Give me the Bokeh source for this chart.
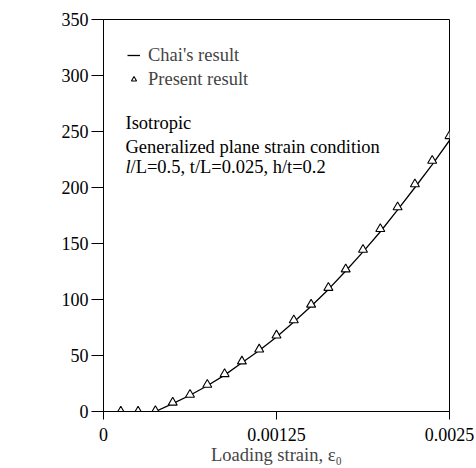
from bokeh.plotting import figure
from bokeh.models import Range1d, FixedTicker, Label, Legend, LegendItem
from bokeh.embed import file_html
from bokeh.resources import INLINE

# ---- data ----
present_x = [0.000125, 0.00025, 0.000375, 0.0005, 0.000625, 0.00075, 0.000875, 0.001,
             0.001125, 0.00125, 0.001375, 0.0015, 0.001625, 0.00175, 0.001875, 0.002,
             0.002125, 0.00225, 0.002375, 0.0025]
present_g = [0, 0, 0.5, 8, 15, 24, 33.5, 44.8, 55.5, 68, 81.5, 95.5, 110.5, 127, 144.5,
             163, 182.5, 203, 224, 246]

chai_x = [0.000375, 0.0005, 0.000625, 0.00075, 0.000875, 0.001, 0.001125, 0.00125,
          0.001375, 0.0015, 0.001625, 0.00175, 0.001875, 0.002, 0.002125, 0.00225,
          0.002375, 0.0025]
chai_g = [0, 7, 14.5, 23, 32.5, 43.5, 54.5, 66.5, 80, 94, 109, 125.5, 142.5, 160.5,
          180, 200, 220.5, 242]

x_ticks = [0, 0.00125, 0.0025]
x_tick_labels = ["0", "0.00125", "0.0025"]
y_ticks = [0, 50, 100, 150, 200, 250, 300, 350]

FONT = "Liberation Serif"

p = figure(width=476, height=468, output_backend="svg", toolbar_location=None,
           x_range=Range1d(0, 0.0025), y_range=Range1d(0, 350),
           min_border_left=103, min_border_right=27, min_border_top=19, min_border_bottom=57)

p.grid.visible = False
p.background_fill_color = "white"
p.border_fill_color = "white"
p.outline_line_color = "black"
p.outline_line_width = 1

for ax in (p.xaxis, p.yaxis):
    ax.axis_line_color = "black"
    ax.major_tick_line_color = "black"
    ax.minor_tick_line_color = None
    ax.major_tick_in = 0
    ax.major_label_text_font = FONT
    ax.major_label_text_font_size = "18px"
    ax.major_label_text_color = "black"

p.xaxis.ticker = FixedTicker(ticks=x_ticks)
p.xaxis.major_label_overrides = {t: s for t, s in zip(x_ticks, x_tick_labels)}
p.xaxis.major_tick_out = 8
p.xaxis.major_label_standoff = 8
p.xaxis.axis_label = "Loading strain, ε₀"
p.xaxis.axis_label_text_font = FONT
p.xaxis.axis_label_text_font_style = "normal"
p.xaxis.axis_label_text_font_size = "18.5px"
p.xaxis.axis_label_standoff = 1

p.yaxis.ticker = FixedTicker(ticks=y_ticks)
p.yaxis.major_tick_out = 12
p.yaxis.major_label_standoff = 3

line_r = p.line(chai_x, chai_g, line_color="black", line_width=1.3)
tri_r = p.scatter(present_x, present_g, marker="triangle", size=9,
                  line_color="black", line_width=1.1, fill_color="white")

legend = Legend(items=[LegendItem(label="Chai's result", renderers=[line_r]),
                       LegendItem(label="Present result", renderers=[tri_r])],
                location="top_left", margin=24, padding=0, spacing=0,
                glyph_width=13, glyph_height=24, label_height=24, label_standoff=8,
                label_text_font=FONT, label_text_font_size="18.5px",
                border_line_color=None, background_fill_alpha=0)
p.add_layout(legend)

def txt(s, x, y, style="normal", align="left"):
    p.add_layout(Label(x=x, y=y, x_units="screen", y_units="screen", text=s,
                       text_font=FONT, text_font_size="18.5px", text_font_style=style,
                       text_align=align, text_baseline="middle", text_color="black"))

txt("Isotropic", 22, 289)
txt("Generalized plane strain condition", 22, 265)
txt("l", 22, 245, style="italic")
txt("/L=0.5, t/L=0.025, h/t=0.2", 27, 245)
# y-axis title
txt("G", -50, 207, align="center")
txt("(N/m)", -50, 190, align="center")

open("out.html", "w").write(file_html(p, INLINE))
